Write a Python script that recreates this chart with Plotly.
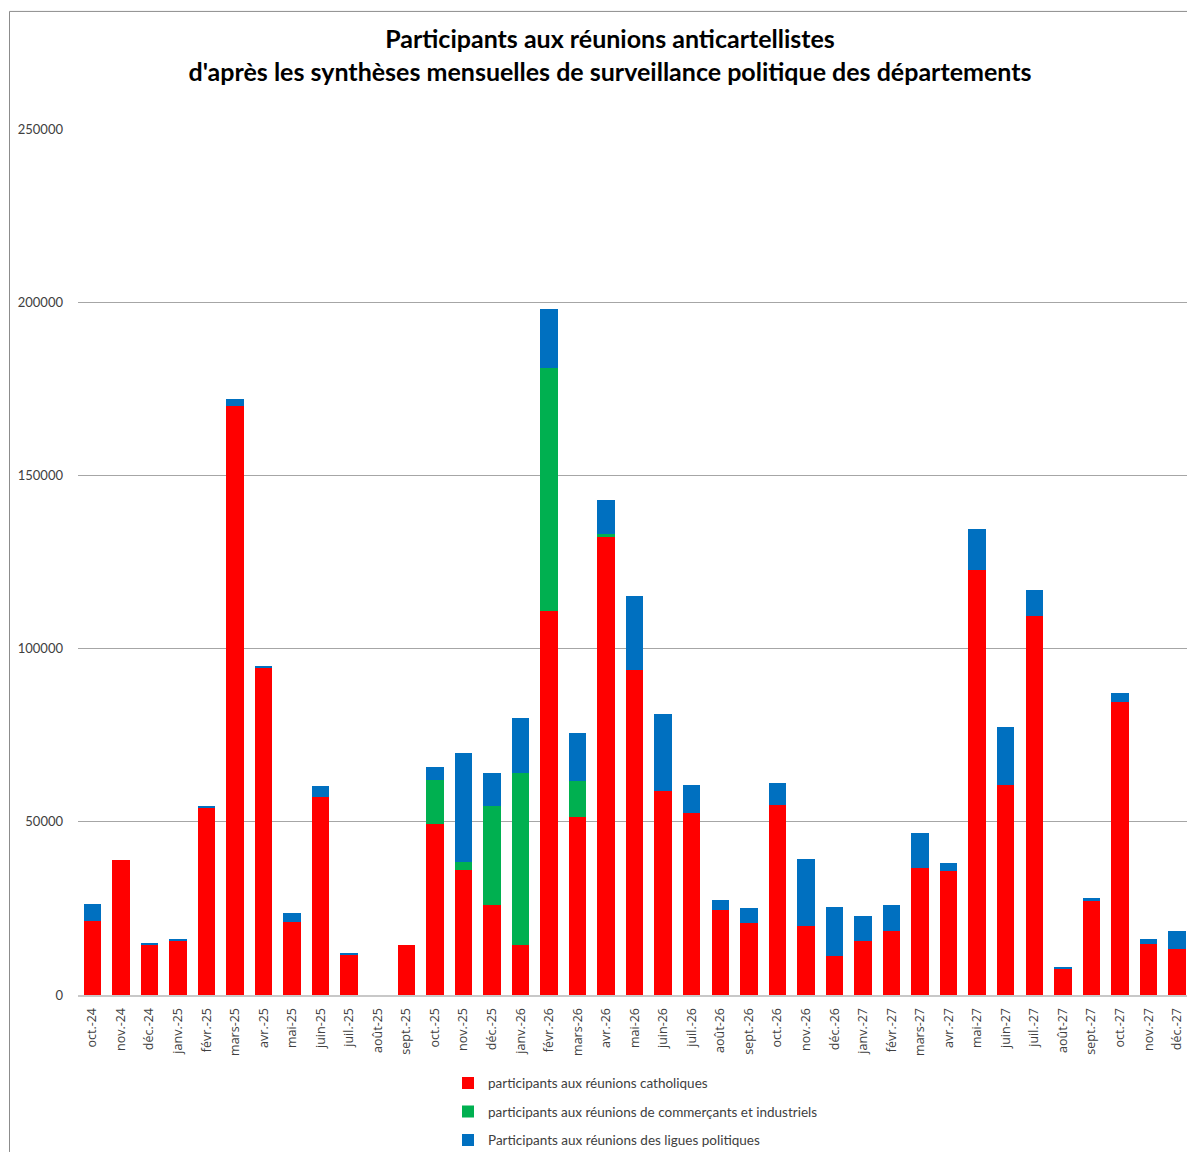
import plotly.graph_objects as go

months = ["oct.-24", "nov.-24", "déc.-24", "janv.-25", "févr.-25", "mars-25", "avr.-25", "mai-25",
          "juin-25", "juil.-25", "août-25", "sept.-25", "oct.-25", "nov.-25", "déc.-25", "janv.-26",
          "févr.-26", "mars-26", "avr.-26", "mai-26", "juin-26", "juil.-26", "août-26", "sept.-26",
          "oct.-26", "nov.-26", "déc.-26", "janv.-27", "févr.-27", "mars-27", "avr.-27", "mai-27",
          "juin-27", "juil.-27", "août-27", "sept.-27", "oct.-27", "nov.-27", "déc.-27"]

catholiques = [21300, 39100, 14700, 15800, 54100, 170000, 94600, 21000,
               57200, 11500, 0, 14400, 49500, 36000, 26000, 14300,
               110800, 51400, 132300, 93800, 58800, 52400, 24500, 20800,
               54900, 19900, 11400, 15600, 18500, 36800, 35900, 122600,
               60700, 109500, 7700, 27400, 84600, 14700, 13300]

commercants = [0, 0, 0, 0, 0, 0, 0, 0,
               0, 0, 0, 0, 12700, 2500, 28700, 49700,
               70100, 10500, 900, 0, 0, 0, 0, 0,
               0, 0, 0, 0, 0, 0, 0, 0,
               0, 0, 0, 0, 0, 0, 0]

ligues = [4900, 0, 300, 300, 600, 2000, 400, 2600,
          3200, 600, 0, 0, 3600, 31400, 9500, 16000,
          17000, 13800, 9600, 21300, 22300, 8300, 3000, 4200,
          6300, 19400, 14000, 7100, 7600, 10100, 2300, 11800,
          16600, 7500, 500, 500, 2600, 1600, 5200]

names = ["participants aux réunions catholiques",
         "participants aux réunions de commerçants et industriels",
         "Participants aux réunions des ligues politiques"]
colors = ["#FF0000", "#00B050", "#0070C0"]

W, H = 1179, 1148
L, R, T, B = 70, 0, 121, 158
PW, PH = W - L - R, H - T - B

fig = go.Figure()
for i, (vals, name, col) in enumerate(zip([catholiques, commercants, ligues], names, colors)):
    fig.add_trace(go.Bar(
        x=months, y=vals, name=name, marker_color=col,
        marker_line_width=0, legendgroup=f"g{i}",
    ))

font_family = "Lato, 'Open Sans', sans-serif"

fig.update_layout(
    width=W, height=H,
    barmode="stack", bargap=0.39,
    plot_bgcolor="white", paper_bgcolor="white",
    margin=dict(l=L, r=R, t=T, b=B),
    font=dict(family=font_family, size=13, color="#404040"),
    title=dict(
        text="<b>Participants aux réunions anticartellistes<br>d'après les synthèses mensuelles de surveillance politique des départements</b>",
        xref="container", x=602 / W, xanchor="center", y=1 - 40 / H, yanchor="top",
        font=dict(family=font_family, size=25, color="#000000"),
    ),
    xaxis=dict(
        type="category", range=[-0.5, 38.35],
        tickangle=-90, tickfont=dict(family="'Open Sans', sans-serif", size=12.5, color="#404040"),
        ticklabelstandoff=6,
        showline=True, linecolor="#C8C8C8", linewidth=2,
        ticks="", showgrid=False,
    ),
    yaxis=dict(
        range=[0, 250000], tickvals=[0, 50000, 100000, 150000, 200000, 250000],
        tickformat="d", showgrid=True, gridcolor="#A6A6A6", gridwidth=1,
        zeroline=False, ticks="", ticklabelstandoff=14,
        tickfont=dict(size=13, color="#404040"),
    ),
    legend=dict(
        orientation="v", x=(440 - L) / PW, xanchor="left", y=-73 / PH, yanchor="top",
        traceorder="grouped", tracegroupgap=8,
        font=dict(size=13.5, color="#404040"),
        itemwidth=30, bgcolor="rgba(0,0,0,0)",
    ),
    showlegend=True,
)

# outer chart border: only top and left edges are visible in the reference
bx = (1.5 - L) / PW
by_top = (T + PH - 3) / PH
by_bot = -(B - 0.5) / PH
fig.add_shape(type="line", xref="paper", yref="paper",
              x0=bx, x1=1.0, y0=by_top, y1=by_top,
              line=dict(color="#8C8C8C", width=1), layer="below")
fig.add_shape(type="line", xref="paper", yref="paper",
              x0=bx, x1=bx, y0=by_top, y1=by_bot,
              line=dict(color="#8C8C8C", width=1), layer="below")

fig.write_html("out.html")
